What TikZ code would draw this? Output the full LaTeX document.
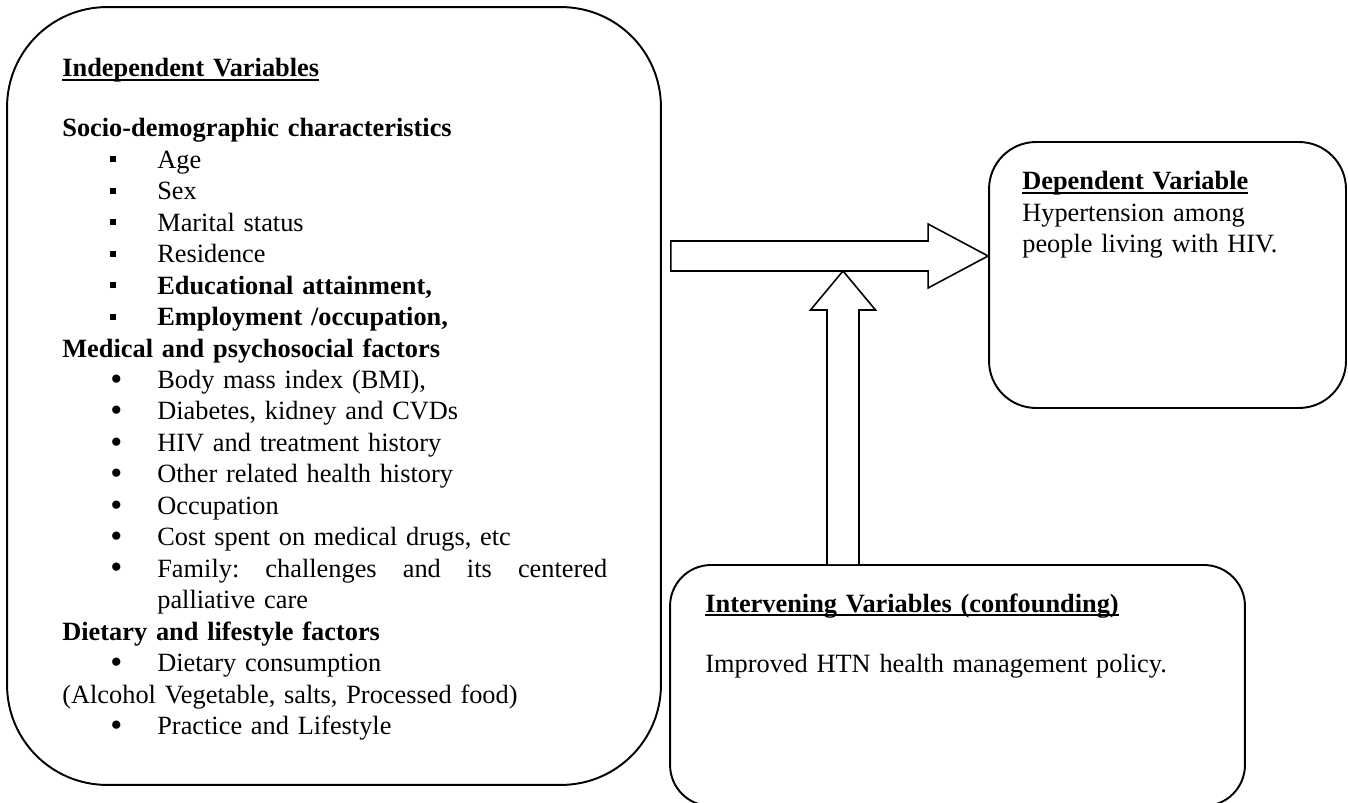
\documentclass[tikz,border=0pt]{standalone}
\usepackage{fontspec}
\setmainfont{Liberation Serif}
\usetikzlibrary{calc}
\newcommand{\ulin}[1]{\setbox0\hbox{#1}\rlap{\rule[-2.4pt]{\wd0}{1.1pt}}\box0}
\newcommand{\sqb}{\rule[0.12cm]{0.12cm}{0.12cm}}
\newcommand{\cirb}{\raisebox{-1pt}{\scalebox{1.3}{\textbullet}}}
\newcommand{\itm}[2]{\makebox[1.9cm][l]{\hspace{0.96cm}#1}#2}

\begin{document}
\begin{tikzpicture}[x=0.02cm,y=-0.02cm,
  varbox/.style={draw,line width=1.1pt,inner sep=0pt},
  vartxt/.style={font=\fontsize{15pt}{17.9pt}\selectfont,inner sep=0pt,align=left,anchor=base west},
  blockarr/.style={draw,line width=0.9pt,line join=miter,fill=white}]
\useasboundingbox (0,0) rectangle (1348,803);

\node[varbox,rounded corners=2cm,minimum width=13.08cm,minimum height=15.56cm] (indep) at (334,396) {};
\node[varbox,rounded corners=0.94cm,minimum width=7.14cm,minimum height=5.32cm] (dep) at (1167.5,275) {};
\node[varbox,rounded corners=0.82cm,minimum width=11.5cm,minimum height=4.82cm] (inter) at (957.5,685.5) {};

\node[vartxt,text width=12cm] (indeptxt) at (62,77) {%
\textbf{\ulin{Independent Variables}}\\[0.57cm]
\textbf{Socio-demographic characteristics}\\
\itm{\sqb}{Age}\\
\itm{\sqb}{Sex}\\
\itm{\sqb}{Marital status}\\
\itm{\sqb}{Residence}\\
\itm{\sqb}{\textbf{Educational attainment,}}\\
\itm{\sqb}{\textbf{Employment /occupation,}}\\
\textbf{Medical and psychosocial factors}\\
\itm{\cirb}{Body mass index (BMI),}\\
\itm{\cirb}{Diabetes, kidney and CVDs}\\
\itm{\cirb}{HIV and treatment history}\\
\itm{\cirb}{Other related health history}\\
\itm{\cirb}{Occupation}\\
\itm{\cirb}{Cost spent on medical drugs, etc}\\
\itm{\cirb}{\makebox[9cm][l]{Family:\hfill challenges\hfill and\hfill its\hfill centered}}\\
\hspace*{1.9cm}palliative care\\
\textbf{Dietary and lifestyle factors}\\
\itm{\cirb}{Dietary consumption}\\
(Alcohol Vegetable, salts, Processed food)\\
\itm{\cirb}{Practice and Lifestyle}};

\node[vartxt,text width=6cm] (deptxt) at (1022,190) {%
\textbf{\ulin{Dependent Variable}}\\
Hypertension among\\
people living with HIV.};

\node[vartxt,text width=10cm] (intertxt) at (705,612) {%
\textbf{\ulin{Intervening Variables (confounding)}}\\[0.59cm]
Improved HTN health management policy.};

% block arrows
\coordinate (hlevel) at (0,256);
\coordinate (hstart) at ($(indep.east |- hlevel)+(9,0)$);
\coordinate (htip) at (dep.west |- hlevel);
\coordinate (vtip) at (843,271);
\coordinate (vbase) at (vtip |- inter.north);

\draw[blockarr] ($(hstart)+(0,-15)$) -- ($(htip)+(-60,-15)$) -- ($(htip)+(-60,-32)$) -- (htip)
  -- ($(htip)+(-60,32)$) -- ($(htip)+(-60,15)$) -- ($(hstart)+(0,15)$) -- cycle;
\draw[blockarr] ($(vbase)+(-16,0)$) -- ($(vtip)+(-16,39)$) -- ($(vtip)+(-32.5,39)$) -- (vtip)
  -- ($(vtip)+(32.5,39)$) -- ($(vtip)+(16,39)$) -- ($(vbase)+(16,0)$);

\end{tikzpicture}
\end{document}
